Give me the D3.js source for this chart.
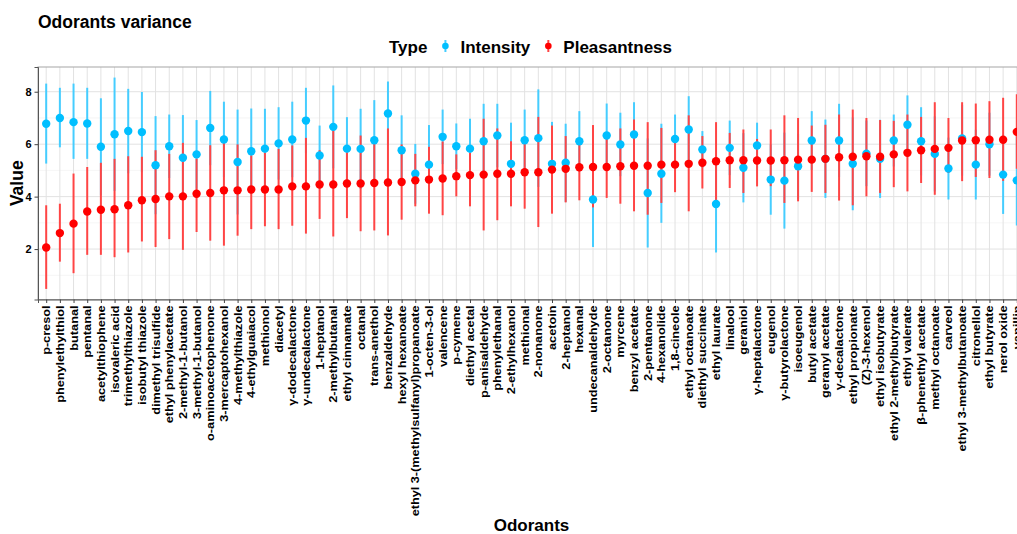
<!DOCTYPE html>
<html>
<head>
<meta charset="utf-8">
<script src="https://cdn.jsdelivr.net/npm/d3@7"></script>
<style>
  body { margin: 0; background: #fff; }
  text { font-family: "Liberation Sans", Arial, sans-serif; font-weight: bold; fill: #000; }
</style>
</head>
<body>
<div id="chart"></div>
<script>
// odorants, sorted by mean pleasantness
var odorants = ['p-cresol', 'phenylethylthiol', 'butanal', 'pentanal', 'acetylthiophene', 'isovaleric acid',
    'trimethylthiazole', 'isobutyl thiazole', 'dimethyl trisulfide', 'ethyl phenylacetate', '2-methyl-1-butanol',
    '3-methyl-1-butanol', 'o-aminoacetophenone', '3-mercaptohexanol', '4-methylthiazole', '4-ethylguaiacol',
    'methionol', 'diacetyl', 'γ-dodecalactone', 'γ-undecalactone', '1-heptanol', '2-methylbutanal',
    'ethyl cinnamate', 'octanal', 'trans-anethol', 'benzaldehyde', 'hexyl hexanoate',
    'ethyl 3-(methylsulfanyl)propanoate', '1-octen-3-ol', 'valencene', 'p-cymene', 'diethyl acetal',
    'p-anisaldehyde', 'phenylethanal', '2-ethylhexanol', 'methional', '2-nonanone', 'acetoin', '2-heptanol',
    'hexanal', 'undecanaldehyde', '2-octanone', 'myrcene', 'benzyl acetate', '2-pentanone', '4-hexanolide',
    '1,8-cineole', 'ethyl octanoate', 'diethyl succinate', 'ethyl laurate', 'linalool', 'geraniol',
    'γ-heptalactone', 'eugenol', 'γ-butyrolactone', 'isoeugenol', 'butyl acetate', 'geranyl acetate',
    'γ-decalactone', 'ethyl propionate', '(Z)-3-hexenol', 'ethyl isobutyrate', 'ethyl 2-methylbutyrate',
    'ethyl valerate', 'β-phenethyl acetate', 'methyl octanoate', 'carveol', 'ethyl 3-methylbutanoate',
    'citronellol', 'ethyl butyrate', 'nerol oxide', 'vanillin'];

var intensityMean = [6.78, 7.00, 6.84, 6.79, 5.90, 6.38, 6.50, 6.46, 5.20, 5.92, 5.48, 5.61, 6.62, 6.18, 5.32, 5.73,
    5.83, 6.03, 6.18, 6.90, 5.57, 6.66, 5.83, 5.82, 6.15, 7.17, 5.77, 4.87, 5.22, 6.28, 5.92, 5.83,
    6.11, 6.33, 5.25, 6.15, 6.23, 5.25, 5.29, 6.11, 3.89, 6.33, 5.99, 6.37, 4.14, 4.87,
    6.20, 6.56, 5.80, 3.72, 5.86, 5.10, 5.95, 4.65, 4.61, 5.16, 6.14, 5.44, 6.14, 5.25, 5.64, 5.44,
    6.14, 6.74, 6.11, 5.63, 5.07, 6.22, 5.22, 6.00, 4.84, 4.62];
var intensityLow = [5.26, 5.88, 5.44, 5.44, 4.05, 4.22, 4.89, 4.93, 3.33, 4.71, 3.85, 4.30, 5.20, 4.74, 3.32, 4.10,
    4.31, 4.65, 4.74, 5.65, 4.43, 5.08, 4.63, 4.29, 4.62, 5.95, 4.44, 3.73, 3.71, 5.24, 5.05, 4.69,
    4.68, 5.12, 3.68, 4.98, 4.37, 3.65, 3.80, 4.96, 2.08, 5.11, 4.78, 5.14, 2.06, 3.00,
    5.27, 5.29, 5.10, 1.87, 4.82, 3.78, 5.08, 3.31, 2.78, 3.90, 5.02, 3.95, 4.74, 3.48, 4.40, 3.95,
    5.15, 5.62, 4.81, 4.20, 3.89, 4.80, 3.89, 4.80, 3.34, 2.90];
var intensityHigh = [8.31, 8.15, 8.31, 8.15, 7.75, 8.54, 8.11, 7.99, 7.07, 7.13, 7.11, 6.92, 8.03, 7.62, 7.32, 7.36,
    7.35, 7.41, 7.62, 8.15, 6.71, 8.24, 7.03, 7.35, 7.68, 8.39, 7.10, 6.01, 6.73, 7.32, 6.79, 6.97,
    7.54, 7.54, 6.82, 7.32, 8.09, 6.85, 6.78, 7.26, 5.70, 7.55, 7.20, 7.60, 6.22, 6.78,
    7.13, 7.83, 6.50, 5.57, 6.90, 6.42, 6.82, 5.99, 6.44, 6.40, 7.26, 6.94, 7.54, 7.02, 6.90, 6.93,
    7.13, 7.86, 7.41, 7.06, 6.25, 7.50, 6.55, 7.20, 6.34, 6.34];

var pleasantMean = [2.06, 2.61, 2.97, 3.43, 3.50, 3.52, 3.67, 3.86, 3.91, 4.01, 4.01, 4.11, 4.14, 4.24, 4.24, 4.27,
    4.27, 4.27, 4.39, 4.39, 4.46, 4.46, 4.50, 4.50, 4.52, 4.54, 4.56, 4.62, 4.65, 4.69, 4.78, 4.82,
    4.84, 4.87, 4.87, 4.93, 4.93, 5.03, 5.06, 5.12, 5.13, 5.13, 5.16, 5.18, 5.18, 5.22,
    5.22, 5.25, 5.29, 5.35, 5.39, 5.39, 5.38, 5.38, 5.39, 5.41, 5.41, 5.44, 5.50, 5.52, 5.54, 5.52,
    5.61, 5.67, 5.77, 5.82, 5.86, 6.14, 6.15, 6.17, 6.17, 6.47];
var pleasantLow = [0.48, 1.52, 1.08, 1.78, 1.78, 1.69, 1.87, 2.29, 2.08, 2.38, 1.97, 2.65, 2.32, 2.13, 2.51, 2.76,
    2.87, 2.76, 2.89, 2.59, 3.15, 2.48, 3.18, 2.68, 2.71, 2.52, 3.12, 3.63, 3.35, 3.29, 4.01, 3.63,
    2.71, 3.10, 3.63, 3.54, 2.84, 3.35, 3.78, 3.86, 3.59, 3.95, 3.73, 3.44, 3.31, 3.76,
    4.17, 3.44, 4.31, 3.82, 4.33, 4.14, 4.39, 4.40, 3.76, 3.82, 4.18, 4.14, 3.85, 3.67, 4.01, 4.14,
    4.36, 4.20, 4.52, 4.07, 4.90, 4.59, 4.75, 4.71, 4.60, 5.06];
var pleasantHigh = [3.67, 3.73, 4.88, 5.13, 5.29, 5.44, 5.54, 5.52, 5.77, 5.63, 6.05, 5.45, 5.96, 6.05, 5.99, 5.57,
    5.67, 5.82, 5.95, 6.24, 5.77, 6.53, 5.69, 6.33, 6.10, 6.60, 5.99, 5.63, 5.90, 6.10, 5.61, 5.67,
    6.97, 6.60, 6.11, 6.10, 7.04, 6.71, 6.31, 6.10, 6.73, 6.30, 6.60, 6.94, 6.84, 6.62,
    6.05, 7.10, 6.31, 6.84, 6.43, 6.56, 6.20, 6.56, 7.10, 7.00, 6.71, 6.74, 7.13, 7.32, 7.00, 6.92,
    6.89, 7.13, 7.04, 7.60, 7.00, 7.60, 7.55, 7.64, 7.77, 7.90];

var types = ['Intensity', 'Pleasantness'];
var yTicks = [2, 4, 6, 8];

var width = 1017, height = 534;
var panel = { left: 38, top: 67, right: 1025, bottom: 299.5 };
var colors = { Intensity: '#00BFFF', Pleasantness: '#FF0000' };
var lineColors = { Intensity: '#45CDFF', Pleasantness: '#FF4545' };

// long table: one row per odorant and type
var rows = [];
odorants.forEach(function (name, i) {
    rows.push({ name: name, type: 'Intensity', mean: intensityMean[i], low: intensityLow[i], high: intensityHigh[i] });
});
odorants.forEach(function (name, i) {
    rows.push({ name: name, type: 'Pleasantness', mean: pleasantMean[i], low: pleasantLow[i], high: pleasantHigh[i] });
});

var svg = d3.select('#chart').append('svg')
    .attr('width', width)
    .attr('height', height);

var xScale = d3.scalePoint()
    .domain(odorants)
    .range([panel.left, panel.right])
    .padding(0.6);

// ggplot-like 5% expansion
var lo = d3.min(rows, function (d) { return d.low; });
var hi = d3.max(rows, function (d) { return d.high; });
var pad = (hi - lo) * 0.05;
var yScale = d3.scaleLinear()
    .domain([lo - pad, hi + pad])
    .range([panel.bottom, panel.top]);

// grid
var grid = svg.append('g');
grid.selectAll('.minor')
    .data([1, 3, 5, 7])
    .enter().append('line')
    .attr('x1', panel.left).attr('x2', panel.right)
    .attr('y1', function (d) { return yScale(d); })
    .attr('y2', function (d) { return yScale(d); })
    .style('stroke', '#efefef').style('stroke-width', 0.6);
grid.selectAll('.hmajor')
    .data(yTicks)
    .enter().append('line')
    .attr('x1', panel.left).attr('x2', panel.right)
    .attr('y1', function (d) { return yScale(d); })
    .attr('y2', function (d) { return yScale(d); })
    .style('stroke', '#e2e2e2').style('stroke-width', 1);
grid.selectAll('.vmajor')
    .data(odorants)
    .enter().append('line')
    .attr('x1', function (d) { return xScale(d); })
    .attr('x2', function (d) { return xScale(d); })
    .attr('y1', panel.top).attr('y2', panel.bottom)
    .style('stroke', '#e2e2e2').style('stroke-width', 1);

// ranges first, then points
svg.append('g')
    .selectAll('line')
    .data(rows)
    .enter().append('line')
    .attr('x1', function (d) { return xScale(d.name); })
    .attr('x2', function (d) { return xScale(d.name); })
    .attr('y1', function (d) { return yScale(d.low); })
    .attr('y2', function (d) { return yScale(d.high); })
    .style('stroke', function (d) { return lineColors[d.type]; })
    .style('stroke-width', 2);

svg.append('g')
    .selectAll('circle')
    .data(rows)
    .enter().append('circle')
    .attr('cx', function (d) { return xScale(d.name); })
    .attr('cy', function (d) { return yScale(d.mean); })
    .attr('r', 4.2)
    .style('fill', function (d) { return colors[d.type]; });

// panel border
svg.append('rect')
    .attr('x', panel.left).attr('y', panel.top)
    .attr('width', panel.right - panel.left)
    .attr('height', panel.bottom - panel.top)
    .style('fill', 'none').style('stroke', '#a6a6a6').style('stroke-width', 1);

// axes
var yAxis = svg.append('g')
    .attr('transform', 'translate(' + panel.left + ',0)')
    .call(d3.axisLeft(yScale).tickValues(yTicks).tickSize(3.5).tickPadding(3));
var xAxis = svg.append('g')
    .attr('transform', 'translate(0,' + panel.bottom + ')')
    .call(d3.axisBottom(xScale).tickSize(3.5).tickPadding(0));

[yAxis, xAxis].forEach(function (ax) {
    ax.select('.domain').style('stroke', '#555').style('stroke-width', 1);
    ax.selectAll('.tick line').style('stroke', '#444');
});
yAxis.selectAll('.tick text')
    .style('font-size', '11px')
    .style('font-family', '"Liberation Sans", Arial, sans-serif')
    .style('font-weight', 'bold');
xAxis.selectAll('.tick text')
    .attr('x', 0).attr('y', 0).attr('dy', '0.35em')
    .attr('transform', 'translate(0,6) rotate(-90) scale(1.27,1)')
    .style('text-anchor', 'end')
    .style('font-size', '10px')
    .style('font-family', '"Liberation Sans", Arial, sans-serif')
    .style('font-weight', 'bold');

// titles
svg.append('text')
    .attr('x', 38).attr('y', 28)
    .style('font-size', '17.5px')
    .text('Odorants variance');

svg.append('text')
    .attr('transform', 'translate(23,' + (panel.top + panel.bottom) / 2 + ') rotate(-90)')
    .style('text-anchor', 'middle')
    .style('font-size', '17.5px')
    .text('Value');

svg.append('text')
    .attr('x', (panel.left + panel.right) / 2).attr('y', 531)
    .style('text-anchor', 'middle')
    .style('font-size', '17px')
    .text('Odorants');

// legend
var legend = svg.append('g').attr('transform', 'translate(389,53)');
var typeLabel = legend.append('text').style('font-size', '17px').text('Type');
var cursor = typeLabel.node().getComputedTextLength() + 18;
types.forEach(function (t) {
    legend.append('line')
        .attr('x1', cursor).attr('x2', cursor)
        .attr('y1', -13).attr('y2', -1)
        .style('stroke', lineColors[t]).style('stroke-width', 2);
    legend.append('circle')
        .attr('cx', cursor).attr('cy', -7).attr('r', 3.3)
        .style('fill', colors[t]);
    var lbl = legend.append('text')
        .attr('x', cursor + 15)
        .style('font-size', '17px')
        .text(t);
    cursor += 15 + lbl.node().getComputedTextLength() + 18;
});
</script>
</body>
</html>
